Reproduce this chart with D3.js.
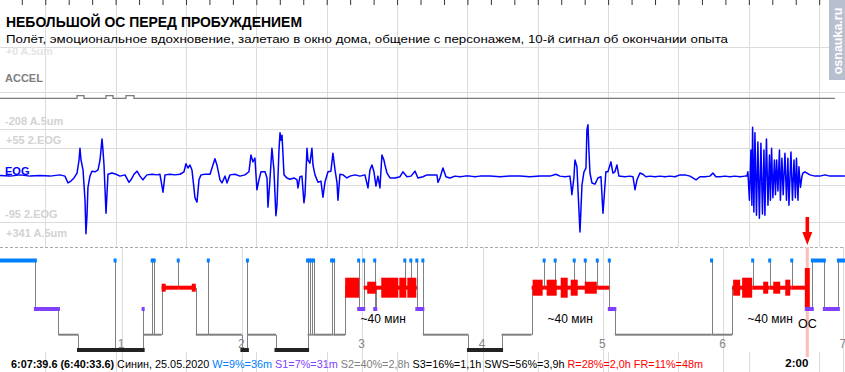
<!DOCTYPE html>
<html>
<head>
<meta charset="utf-8">
<title>Небольшой ОС перед пробуждением</title>
<script src="https://d3js.org/d3.v7.min.js"></script>
<style>
  body { margin: 0; background: #fff; }
  svg { display: block; font-family: "Liberation Sans", Arial, sans-serif; }
  .grid { stroke: #dcdcdc; stroke-width: 1px; shape-rendering: crispEdges; }
  .hour-line { stroke: #dcdcdc; stroke-width: 1px; shape-rendering: crispEdges; }
  .hour-label { font-size: 12px; fill: #888; text-anchor: middle; }
  .range-label { font-size: 11px; font-weight: bold; fill: #d2d2d2; }
  .range-label.faint { font-size: 10.5px; fill: #e4e4e4; }
  .chan-name { font-size: 11px; font-weight: bold; }
  .link { stroke: #808080; stroke-width: 1px; shape-rendering: crispEdges; }
  .note { font-size: 12px; fill: #000; }
</style>
</head>
<body>
<svg id="chart" width="845" height="372"></svg>
<script>
// ---------- data ----------
const titleText = "НЕБОЛЬШОЙ ОС ПЕРЕД ПРОБУЖДЕНИЕМ";
const subtitleText = "Полёт, эмоциональное вдохновение, залетаю в окно дома, общение с персонажем, 10-й сигнал об окончании опыта";
const watermark = "osnauka.ru";

// signal strips: value at the bottom and top edge of each strip
const strips = [
  { name: "ACCEL", unit: "A.5um", lo: -208, hi: 0 },
  { name: "EOG", unit: "2.EOG", lo: -95, hi: 55 },
  { name: null, unit: "A.5um", lo: null, hi: 341 }
];

// upper strip time in seconds
const secondTicks = d3.range(4, 75, 2);
const secondGrid = d3.range(6, 74, 6);

// [seconds, value]
const accelTrace = [
  [2.14,-139],[8.62,-139],[8.71,-133],[9.22,-133],[9.30,-139],[11.09,-139],[11.18,-133],
  [11.69,-133],[11.78,-139],[12.80,-139],[12.88,-133],[13.48,-133],[13.57,-139],[73.34,-139]
];

const eogTrace = [
  [2.14,-20],[2.99,-21],[3.85,-19],[4.70,-21],[5.55,-20],[6.40,-21],[7.26,-19],[7.68,-21],
  [7.94,-32],[8.19,-29],[8.45,-24],[8.71,-16],[8.88,5],[8.96,24],[9.05,5],[9.22,-11],
  [9.39,-60],[9.47,-114],[9.56,-84],[9.64,-39],[9.81,-21],[9.98,-13],[10.24,-14],[10.50,-11],
  [10.67,5],[10.84,39],[10.92,21],[11.01,-3],[11.18,-81],[11.26,-51],[11.35,-18],[11.69,-16],
  [12.03,-18],[12.37,-21],[12.80,-19],[13.14,-31],[13.31,-27],[13.57,-18],[13.82,-13],[14.08,-21],
  [14.33,-27],[14.67,-19],[15.10,-18],[15.53,-19],[15.78,-18],[16.04,-47],[16.21,-19],[16.64,-18],
  [17.06,-19],[17.49,-18],[17.83,-14],[18.00,-1],[18.17,-8],[18.34,-3],[18.51,-11],[18.77,-56],
  [18.94,-63],[19.11,-27],[19.28,-19],[19.62,-18],[20.05,-18],[20.30,-3],[20.47,7],[20.64,-3],
  [20.90,-27],[21.07,-32],[21.33,-21],[21.50,-32],[21.75,-19],[22.18,-18],[22.60,-21],[23.03,-19],
  [23.37,-14],[23.54,13],[23.71,2],[23.88,8],[24.05,-43],[24.22,-27],[24.40,-14],[24.74,-14],
  [24.91,-24],[24.99,-71],[25.16,-27],[25.33,24],[25.50,-11],[25.67,-85],[25.76,-68],[25.93,21],
  [26.02,49],[26.10,37],[26.19,45],[26.36,-19],[26.61,-24],[26.87,-26],[27.21,-24],[27.47,-27],
  [27.55,-40],[27.72,-22],[27.89,-21],[28.06,-64],[28.15,-51],[28.32,24],[28.40,5],[28.57,0],
  [28.74,24],[28.83,-3],[29.00,-19],[29.26,-31],[29.51,-29],[29.68,-55],[29.85,-31],[30.11,-14],
  [30.36,-13],[30.53,16],[30.71,-11],[30.88,-32],[30.96,-60],[31.13,-18],[31.39,-19],[31.73,-24],
  [31.98,-21],[32.41,-19],[32.84,-21],[33.26,-19],[33.52,-40],[33.69,-11],[33.86,-3],[34.03,-14],
  [34.20,-37],[34.37,-21],[34.54,-40],[34.71,13],[34.88,5],[34.97,-3],[35.14,-16],[35.40,-24],
  [35.82,-24],[36.25,-22],[36.50,-14],[36.85,-22],[37.19,-21],[37.53,-13],[37.78,-24],[38.21,-22],
  [38.55,-19],[38.98,-19],[39.40,-19],[39.49,-31],[39.66,-24],[39.91,-8],[40.17,-22],[40.51,-24],
  [40.94,-21],[41.36,-22],[41.79,-21],[42.22,-21],[42.64,-22],[43.07,-21],[43.92,-21],[44.78,-22],
  [45.63,-21],[46.48,-21],[47.33,-22],[48.19,-21],[49.04,-21],[49.55,-18],[49.89,-21],[50.32,-22],
  [50.74,-21],[50.83,-35],[50.91,-51],[51.08,-24],[51.17,5],[51.34,-6],[51.43,-43],[51.60,-111],
  [51.68,-76],[51.77,-35],[51.94,-14],[52.11,-8],[52.19,53],[52.28,62],[52.36,21],[52.45,-16],
  [52.62,-32],[52.88,-34],[53.13,-24],[53.39,-22],[53.56,-81],[53.64,-60],[53.81,-14],[53.98,-14],
  [54.24,2],[54.41,-16],[54.58,-14],[54.75,-3],[54.92,-21],[55.43,-22],[55.86,-21],[56.12,-22],
  [56.29,-43],[56.46,-27],[56.71,-16],[56.97,-18],[57.22,-22],[57.57,-21],[57.99,-22],[58.42,-21],
  [58.85,-22],[59.27,-21],[59.70,-22],[60.12,-19],[60.55,-19],[60.98,-21],[61.23,-24],[61.49,-27],
  [61.83,-22],[62.25,-22],[62.68,-21],[62.94,-16],[63.19,-22],[63.53,-22],[63.96,-21],[64.39,-22],
  [64.81,-21],[65.24,-22],[65.67,-21],[65.84,-21],[65.92,-14],[66.05,-60],[66.18,21],[66.26,-68],
  [66.32,58],[66.43,-79],[66.52,49],[66.65,-84],[66.77,34],[66.90,-89],[67.03,32],[67.16,-82],
  [67.29,21],[67.37,-84],[67.50,39],[67.63,-68],[67.76,13],[67.84,-60],[67.94,24],[68.05,-56],
  [68.18,5],[68.27,-51],[68.37,5],[68.48,-45],[68.61,21],[68.69,-60],[68.82,8],[68.93,-51],
  [69.08,16],[69.21,-60],[69.33,8],[69.42,-68],[69.59,18],[69.72,-60],[69.85,5],[69.97,-56],
  [70.06,8],[70.19,-60],[70.27,-6],[70.40,-39],[70.53,-21],[70.61,-16],[70.78,-14],[71.21,-19],
  [71.64,-21],[72.06,-21],[72.49,-19],[72.91,-21],[73.34,-21],[73.77,-21],[74.19,-21]
];

// hypnogram: [epoch (30 s), stage] transitions
const stages = ["W", "R", "S1", "S2", "S3"];
const hypnogram = [
  [0,"W"],[34,"S1"],[57,"S2"],[77,"S3"],[113,"W"],[114,"S3"],[141,"S1"],[142,"S2"],
  [150,"W"],[151,"S2"],[152,"W"],[153,"S2"],[160,"R"],[176,"W"],[177,"R"],[194,"S2"],
  [206,"W"],[207,"S2"],[240,"S3"],[245,"W"],[246,"S2"],[274,"S3"],
  [305,"W"],[306,"S2"],[307,"W"],[308,"S2"],[309,"W"],[310,"S2"],[311,"W"],[312,"S2"],
  [329,"W"],[330,"S2"],[331,"W"],[332,"S2"],[343,"R"],[356,"W"],[357,"S1"],[361,"W"],[362,"R"],
  [372,"W"],[373,"S1"],[374,"R"],[402,"W"],[403,"R"],[408,"W"],[409,"R"],
  [414,"W"],[415,"S1"],[420,"W"],[421,"S2"],[466,"S3"],[499,"S2"],[529,"R"],
  [541,"W"],[542,"R"],[552,"W"],[553,"R"],[571,"W"],[572,"R"],[582,"W"],[583,"R"],
  [594,"W"],[595,"R"],[606,"W"],[607,"S1"],[612,"S2"],[708,"W"],[709,"S2"],[729,"R"],
  [749,"W"],[750,"R"],[766,"W"],[767,"R"],[788,"W"],[789,"R"],
  [803,"S1"],[809,"W"],[821,"S1"],[835,"W"]
];
const hypnoEnd = 841;

// REM intensity bursts: [start epoch, end epoch, level 1-4]
const remBursts = [
  [160,164,1],[190,194,1],
  [343,357,4],[365,374,2],[379,396,4],[397,404,4],[405,414,4],
  [530,540,3],[544,554,3],[558,565,4],[568,575,3],[582,594,2],
  [730,737,3],[739,749,4],[760,765,2],[770,777,2],[782,787,3]
];

const hourTicks = [1, 2, 3, 4, 5, 6, 7];
const remNotes = [[381, "~40 мин"], [567.5, "~40 мин"], [767, "~40 мин"]];
const osEpoch = 804;
const osLabel = "ОС";
const osDuration = "2:00";

const summary = [
  ["6:07:39.6 (6:40:33.6)", "time"], ["Синин, 25.05.2020", "info"],
  ["W=9%=36m", "W"], ["S1=7%=31m", "S1"], ["S2=40%=2,8h", "S2"], ["S3=16%=1,1h", "S3"],
  ["SWS=56%=3,9h", "SWS"], ["R=28%=2,0h", "R"], ["FR=11%=48m", "FR"]
];

// ---------- layout & style ----------
const width = 845, height = 372;
const gridRows = [47, 92.5, 129, 148.5, 185, 222];
const stripBox = [[36.5, 129], [129, 222], [222, 315]];   // [top, bottom]
const hypTop = 247, lowerRowTop = 352;
const stageLevel = { W: 260.5, R: 287.7, S1: 309, S2: 334.7, S3: 350 };
const stageStyle = {
  W:  { color: "#0080ff", h: 4, ext: 1.5 },
  R:  { color: "#ff0000", h: 4, ext: 0 },
  S1: { color: "#7f40ff", h: 4, ext: 1.5 },
  S2: { color: "#808080", h: 2, ext: 0 },
  S3: { color: "#222222", h: 4, ext: 1.5 }
};
const burstHalf = { 1: 4, 2: 6, 3: 8, 4: 10 };
const summaryColor = { time: "#000", info: "#000", W: "#0080ff", S1: "#7f40ff", S2: "#808080",
                       S3: "#000", SWS: "#000", R: "#ff0000", FR: "#ff0000" };
const stripColor = { ACCEL: "#808080", EOG: "#0000ff" };

const svg = d3.select("#chart");

// scales
const xT = d3.scaleLinear().domain([2.14, 74.2]).range([0, width]);
const xH = d3.scaleLinear().domain([0, 840]).range([1.3, 843.4]);
const yAccel = d3.scaleLinear().domain([strips[0].lo, strips[0].hi]).range([stripBox[0][1], stripBox[0][0]]);
const yEog = d3.scaleLinear().domain([strips[1].lo, strips[1].hi]).range([stripBox[1][1], stripBox[1][0]]);
const yStage = d3.scaleOrdinal().domain(stages).range(stages.map(s => stageLevel[s]));

// ---------- grid ----------
const grid = svg.append("g");
grid.selectAll("line.row").data(gridRows).join("line")
  .attr("class", "grid").attr("x1", 0).attr("x2", width)
  .attr("y1", d => d).attr("y2", d => d);
[[0, hypTop], [lowerRowTop, height]].forEach(([y1, y2]) => {
  grid.selectAll(null).data(secondGrid).join("line")
    .attr("class", "grid")
    .attr("x1", d => Math.round(xT(d)) + 0.5).attr("x2", d => Math.round(xT(d)) + 0.5)
    .attr("y1", y1).attr("y2", y2);
});
grid.selectAll("line.hour-line").data(hourTicks).join("line")
  .attr("class", "hour-line")
  .attr("x1", d => Math.round(xH(d * 120)) + 0.5).attr("x2", d => Math.round(xH(d * 120)) + 0.5)
  .attr("y1", hypTop).attr("y2", height);

// second ticks along the top
const topAxis = d3.axisTop(xT).tickValues(secondTicks).tickSize(-5).tickFormat("");
const ta = svg.append("g").call(topAxis);
ta.select(".domain").remove();
ta.selectAll("line").attr("stroke", "#333");

// dashed top of hypnogram
svg.append("line").attr("x1", 0).attr("x2", width).attr("y1", hypTop + 0.5).attr("y2", hypTop + 0.5)
  .attr("stroke", "#aaa").attr("stroke-dasharray", "3,2");

// ---------- channel labels ----------
const fmt = v => (v >= 0 ? "+" : "") + v;
strips.forEach((s, i) => {
  const [top, bot] = stripBox[i];
  svg.append("text").attr("class", i === 0 ? "range-label faint" : "range-label").attr("x", 6)
    .attr("y", i === 0 ? top + 18.5 : top + 15)
    .text(`${fmt(s.hi)} ${s.unit}`);
  if (s.lo !== null) {
    svg.append("text").attr("class", "range-label").attr("x", 5).attr("y", bot - 4)
      .text(`${fmt(s.lo)} ${s.unit}`);
  }
});

// ---------- traces ----------
svg.append("path").datum(accelTrace)
  .attr("d", d3.line().x(d => xT(d[0])).y(d => yAccel(d[1])).curve(d3.curveStepAfter))
  .attr("fill", "none").attr("stroke", "#7a7a7a").attr("stroke-width", 1.3);

svg.append("path").datum(eogTrace)
  .attr("d", d3.line().x(d => xT(d[0])).y(d => yEog(d[1])))
  .attr("fill", "none").attr("stroke", "#0000ff").attr("stroke-width", 1.5)
  .attr("stroke-linejoin", "round");

strips.forEach((s, i) => {
  if (!s.name) return;
  const mid = (stripBox[i][0] + stripBox[i][1]) / 2;
  svg.append("text").attr("class", "chan-name").attr("x", 5).attr("y", mid - 0.5)
    .attr("fill", stripColor[s.name]).text(s.name);
});

// ---------- title ----------
svg.append("text").attr("x", 6).attr("y", 26.7)
  .attr("font-size", 15).attr("font-weight", "bold").attr("fill", "#000")
  .attr("textLength", 296).attr("lengthAdjust", "spacingAndGlyphs")
  .text(titleText);
svg.append("text").attr("x", 6).attr("y", 42.7)
  .attr("font-size", 11.5).attr("fill", "#000")
  .attr("textLength", 722).attr("lengthAdjust", "spacingAndGlyphs")
  .text(subtitleText);

// ---------- hypnogram ----------
const osX = xH(osEpoch);
svg.append("rect").attr("x", osX - 1.5).attr("y", hypTop).attr("width", 3)
  .attr("height", 357 - hypTop).attr("fill", "#ffbcbc");

const segs = hypnogram.map((d, i) => {
  const end = i < hypnogram.length - 1 ? hypnogram[i + 1][0] : hypnoEnd;
  // one-epoch excursions are drawn as a single spike with a marker on top
  return { start: d[0], end, stage: d[1], spike: end - d[0] <= 1 && d[1] !== "S2",
           xc: xH((d[0] + end) / 2) };
});
const linkX = (a, b) => a.spike ? a.xc : (b.spike ? b.xc : xH(b.start));
segs.forEach((s, i) => {
  s.xa = i === 0 ? xH(s.start) : linkX(segs[i - 1], s);
  s.xb = i === segs.length - 1 ? xH(s.end) : linkX(s, segs[i + 1]);
});

const hyp = svg.append("g");
hyp.selectAll("line.link").data(segs.slice(1)).join("line")
  .attr("class", "link")
  .attr("x1", d => Math.round(d.xa) + 0.5).attr("x2", d => Math.round(d.xa) + 0.5)
  .attr("y1", (d, i) => yStage(segs[i].stage)).attr("y2", d => yStage(d.stage));

const order = ["S2", "S3", "S1", "R", "W"];
hyp.selectAll("rect.bar")
  .data(segs.slice().sort((a, b) => order.indexOf(a.stage) - order.indexOf(b.stage)))
  .join("rect").attr("class", "bar")
  .attr("x", d => d.xa - stageStyle[d.stage].ext)
  .attr("width", d => Math.max(0, d.xb - d.xa + 2 * stageStyle[d.stage].ext))
  .attr("y", d => yStage(d.stage) - stageStyle[d.stage].h / 2)
  .attr("height", d => stageStyle[d.stage].h)
  .attr("fill", d => stageStyle[d.stage].color);

hyp.selectAll("rect.burst").data(remBursts).join("rect").attr("class", "burst")
  .attr("x", d => xH(d[0])).attr("width", d => xH(d[1]) - xH(d[0]))
  .attr("y", d => yStage("R") - burstHalf[d[2]]).attr("height", d => 2 * burstHalf[d[2]])
  .attr("fill", "#ff0000");

// OS marker
hyp.append("rect").attr("x", osX - 2.5).attr("width", 5)
  .attr("y", yStage("W") + 7.5).attr("height", yStage("S1") - 2 - yStage("W") - 7.5)
  .attr("fill", "#ff0000");
svg.append("path")
  .attr("d", `M${osX - 1.8},217 L${osX + 1.8},217 L${osX + 1.8},232 L${osX + 5},232 L${osX},245 L${osX - 5},232 L${osX - 1.8},232 Z`)
  .attr("fill", "#ff0000");

// hour labels & notes
svg.selectAll("text.hour-label").data(hourTicks).join("text").attr("class", "hour-label")
  .attr("x", d => xH(d * 120) - 0.5).attr("y", 347.5).text(d => d);
svg.selectAll("text.note").data(remNotes).join("text").attr("class", "note")
  .attr("x", d => xH(d[0])).attr("y", 323).attr("text-anchor", "middle").text(d => d[1]);
svg.append("text").attr("x", osX).attr("y", 328.3).attr("text-anchor", "middle")
  .attr("font-size", 12.5).text(osLabel);
svg.append("text").attr("x", osX + 1).attr("y", 366.7).attr("text-anchor", "end")
  .attr("font-size", 11.5).attr("font-weight", "bold").text(osDuration);

// ---------- summary line ----------
const sumText = svg.append("text").attr("x", 11).attr("y", 367.5).attr("font-size", 11.5)
  .attr("textLength", 692).attr("lengthAdjust", "spacingAndGlyphs");
summary.forEach((d, i) => {
  sumText.append("tspan")
    .attr("fill", summaryColor[d[1]])
    .attr("font-weight", d[1] === "time" ? "bold" : "normal")
    .text((i ? " " : "") + d[0]);
});

// ---------- watermark ----------
svg.append("rect").attr("x", 829).attr("y", 0).attr("width", 16).attr("height", 80).attr("fill", "#b8c0cf");
svg.append("text").attr("transform", "translate(841.5,41) rotate(-90)")
  .attr("text-anchor", "middle").attr("font-size", 12.5).attr("font-weight", "bold")
  .attr("fill", "#fff").text(watermark);
</script>
</body>
</html>
